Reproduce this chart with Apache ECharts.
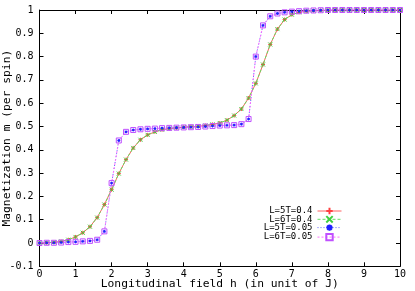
<!DOCTYPE html>
<html>
<head>
<meta charset="utf-8">
<script src="https://cdn.jsdelivr.net/npm/echarts@6/dist/echarts.min.js"></script>
<style>html,body{margin:0;padding:0;background:#fff}#c{width:415px;height:291px}</style>
</head>
<body>
<div id="c"></div>
<script>
var hValues = [0,0.2,0.4,0.6,0.8,1.0,1.2,1.4,1.6,1.8,2.0,2.2,2.4,2.6,2.8,3.0,3.2,3.4,3.6,3.8,4.0,4.2,4.4,4.6,4.8,5.0,5.2,5.4,5.6,5.8,6.0,6.2,6.4,6.6,6.8,7.0,7.2,7.4,7.6,7.8,8.0,8.2,8.4,8.6,8.8,9.0,9.2,9.4,9.6,9.8,10.0];
var mL5T04 = [0,0.001,0.003,0.007,0.014,0.026,0.044,0.070,0.109,0.165,0.229,0.298,0.358,0.408,0.443,0.464,0.477,0.486,0.491,0.494,0.497,0.499,0.501,0.504,0.509,0.515,0.527,0.547,0.575,0.622,0.685,0.766,0.852,0.918,0.959,0.980,0.990,0.995,0.997,0.998,0.999,1,1,1,1,1,1,1,1,1,1];
var mL6T04 = [0,0.001,0.003,0.007,0.014,0.026,0.044,0.070,0.109,0.165,0.229,0.298,0.358,0.408,0.443,0.464,0.477,0.486,0.491,0.494,0.497,0.499,0.501,0.504,0.509,0.515,0.527,0.547,0.575,0.622,0.685,0.766,0.852,0.918,0.959,0.980,0.990,0.995,0.997,0.998,0.999,1,1,1,1,1,1,1,1,1,1];
var mL5T005 = [0,0.001,0.001,0.002,0.004,0.005,0.007,0.009,0.014,0.050,0.257,0.440,0.477,0.485,0.488,0.490,0.491,0.493,0.494,0.495,0.496,0.497,0.498,0.500,0.502,0.504,0.505,0.506,0.510,0.532,0.800,0.934,0.973,0.985,0.990,0.993,0.995,0.997,0.998,0.999,1,1,1,1,1,1,1,1,1,1,1];
var mL6T005 = [0,0.001,0.001,0.002,0.004,0.005,0.007,0.009,0.014,0.050,0.257,0.440,0.477,0.485,0.488,0.490,0.491,0.493,0.494,0.495,0.496,0.497,0.498,0.500,0.502,0.504,0.505,0.506,0.510,0.532,0.800,0.934,0.973,0.985,0.990,0.993,0.995,0.997,0.998,0.999,1,1,1,1,1,1,1,1,1,1,1];
var seriesNames = ['L=5T=0.4','L=6T=0.4','L=5T=0.05','L=6T=0.05'];

function pairs(ys){ return hValues.map(function(h,i){ return [h, ys[i]]; }); }

var FONT = 'DejaVu Sans Mono';
var chart = echarts.init(document.getElementById('c'), null, {renderer:'canvas'});
var axisCommon = {
  axisLine:{show:true, onZero:false, lineStyle:{color:'#000', width:1}},
  axisTick:{show:true, inside:true, length:4, lineStyle:{color:'#000'}},
  splitLine:{show:false}
};
function mk(o){ return Object.assign({}, JSON.parse(JSON.stringify(axisCommon)), o); }

chart.setOption({
  animation:false,
  backgroundColor:'#fff',
  grid:{left:39.5, right:15, top:10, bottom:24.7, containLabel:false, outerBoundsMode:'none'},
  xAxis:[
    mk({type:'value', position:'bottom', min:0, max:10, interval:1,
      axisLabel:{fontFamily:FONT, fontSize:10, color:'#000', margin:3},
      name:'Longitudinal field h (in unit of J)', nameLocation:'middle', nameGap:17.5, nameMoveOverlap:false,
      nameTextStyle:{fontFamily:FONT, fontSize:11.3, color:'#000', verticalAlign:'middle'}}),
    mk({type:'value', position:'top', min:0, max:10, interval:1, axisLabel:{show:false}})
  ],
  yAxis:[
    mk({type:'value', position:'left', min:-0.1, max:1, interval:0.1,
      axisLabel:{fontFamily:FONT, fontSize:10, color:'#000', margin:6,
        formatter:function(v){ return String(Number(v.toFixed(1))); }},
      name:'Magnetization m (per spin)', nameLocation:'middle', nameGap:32.5, nameMoveOverlap:false,
      nameTextStyle:{fontFamily:FONT, fontSize:11.3, color:'#000', verticalAlign:'middle'}}),
    mk({type:'value', position:'right', min:-0.1, max:1, interval:0.1, axisLabel:{show:false}})
  ],
  legend:{
    right:73, top:206.5, orient:'vertical', align:'right', padding:0,
    itemWidth:24, itemHeight:8, itemGap:-0.7,
    lineStyle:{width:1},
    textStyle:{fontFamily:FONT, fontSize:9, color:'#000', lineHeight:8},
    data:seriesNames
  },
  series:[
    {name:seriesNames[0], type:'line', data:pairs(mL5T04),
      symbol:'path://M0,5L10,5M5,0L5,10', symbolSize:4,
      lineStyle:{color:'#ff6060', width:1},
      itemStyle:{color:'#ff6060', borderColor:'#ff4040', borderWidth:1}},
    {name:seriesNames[1], type:'line', data:pairs(mL6T04),
      symbol:'path://M0,0L10,10M10,0L0,10', symbolSize:4,
      lineStyle:{color:'#60e060', width:1, type:[3,2]},
      itemStyle:{color:'#40d040', borderColor:'#40d040', borderWidth:1}},
    {name:seriesNames[2], type:'line', data:pairs(mL5T005),
      symbol:'path://M0,5L10,5M5,0L5,10M1.5,1.5L8.5,8.5M8.5,1.5L1.5,8.5', symbolSize:3,
      lineStyle:{color:'#6060ff', width:1, type:[1,2]},
      itemStyle:{color:'#2020ff', borderColor:'#2020ff', borderWidth:1}},
    {name:seriesNames[3], type:'line', data:pairs(mL6T005),
      symbol:'rect', symbolSize:5,
      lineStyle:{color:'#ff70ff', width:1, type:[2,2]},
      itemStyle:{color:'none', borderColor:'#c050ff', borderWidth:1}}
  ]
});
</script>
</body>
</html>
